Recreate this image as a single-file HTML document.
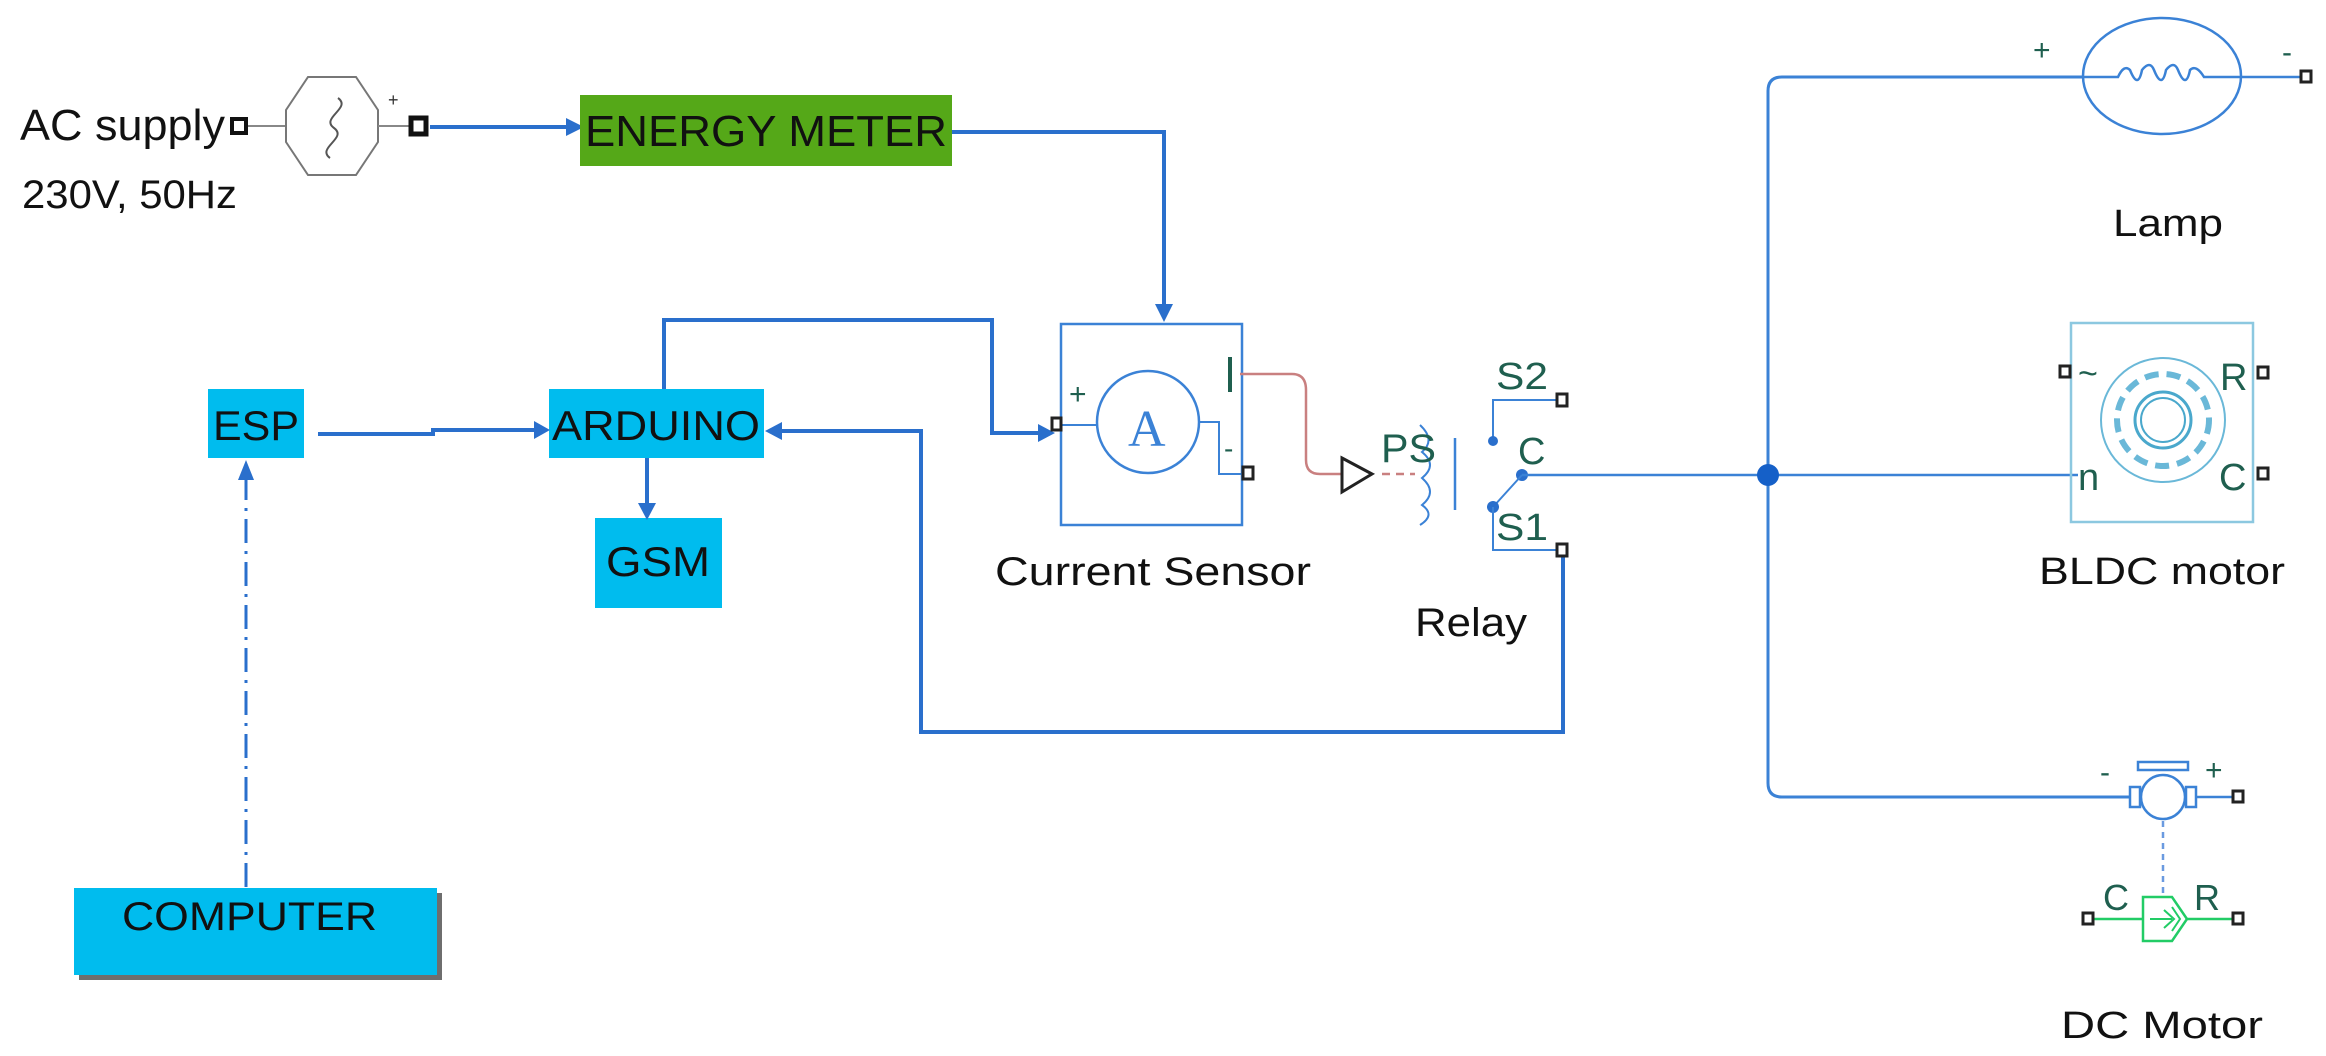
<!DOCTYPE html>
<html><head><meta charset="utf-8"><style>
html,body{margin:0;padding:0;background:#fff;}
svg{display:block;}
text{font-family:"Liberation Sans",sans-serif;}
</style></head><body>
<svg width="2326" height="1056" viewBox="0 0 2326 1056" xmlns="http://www.w3.org/2000/svg">
<defs>
<marker id="ar" viewBox="0 0 10 10" refX="9" refY="5" markerWidth="6" markerHeight="6" orient="auto" markerUnits="userSpaceOnUse" style="overflow:visible">
</marker>
</defs>
<rect width="2326" height="1056" fill="#fff"/>

<!-- AC supply -->
<text x="20" y="140" font-size="44" fill="#111" textLength="205" lengthAdjust="spacingAndGlyphs">AC supply</text>
<text x="22" y="208" font-size="40" fill="#111" textLength="215" lengthAdjust="spacingAndGlyphs">230V, 50Hz</text>
<rect x="232" y="119" width="14" height="14" fill="#fff" stroke="#111" stroke-width="4"/>
<line x1="248" y1="126" x2="286" y2="126" stroke="#888" stroke-width="2"/>
<polygon points="308,77 356,77 378,110 378,142 356,175 308,175 286,142 286,110" fill="#fff" stroke="#777" stroke-width="2"/>
<path d="M338,98 C352,108 320,118 334,128 C348,138 316,148 330,158" fill="none" stroke="#555" stroke-width="2"/>
<text x="388" y="106" font-size="18" fill="#333">+</text>
<line x1="378" y1="126" x2="410" y2="126" stroke="#888" stroke-width="2"/>
<rect x="411" y="118" width="15" height="16" fill="#fff" stroke="#111" stroke-width="5"/>
<line x1="430" y1="127" x2="568" y2="127" stroke="#2a6fcc" stroke-width="4"/>
<polygon points="584,127 566,118 566,136" fill="#2a6fcc"/>

<!-- ENERGY METER -->
<rect x="580" y="95" width="372" height="71" fill="#55a818"/>
<text x="585" y="146" font-size="44" fill="#111" textLength="362" lengthAdjust="spacingAndGlyphs">ENERGY METER</text>
<polyline points="952,132 1164,132 1164,308" fill="none" stroke="#2a6fcc" stroke-width="4"/>
<polygon points="1164,322 1155,304 1173,304" fill="#2a6fcc"/>

<!-- ESP / ARDUINO / GSM -->
<rect x="208" y="389" width="96" height="69" fill="#00bcee"/>
<text x="213" y="440" font-size="42" fill="#111" textLength="86" lengthAdjust="spacingAndGlyphs">ESP</text>
<rect x="549" y="389" width="215" height="69" fill="#00bcee"/>
<text x="552" y="440" font-size="42" fill="#111" textLength="208" lengthAdjust="spacingAndGlyphs">ARDUINO</text>
<rect x="595" y="518" width="127" height="90" fill="#00bcee"/>
<text x="606" y="576" font-size="42" fill="#111" textLength="104" lengthAdjust="spacingAndGlyphs">GSM</text>
<rect x="79" y="893" width="363" height="87" fill="#555" opacity="0.85"/>
<rect x="74" y="888" width="363" height="87" fill="#00bcee"/>
<text x="122" y="930" font-size="40" fill="#111" textLength="255" lengthAdjust="spacingAndGlyphs">COMPUTER</text>

<!-- ESP->ARDUINO -->
<polyline points="318,434 433,434 433,430 536,430" fill="none" stroke="#2a6fcc" stroke-width="4"/>
<polygon points="550,430 534,421 534,439" fill="#2a6fcc"/>
<!-- ARDUINO->GSM -->
<line x1="647" y1="458" x2="647" y2="506" stroke="#2a6fcc" stroke-width="4"/>
<polygon points="647,520 638,503 656,503" fill="#2a6fcc"/>
<!-- computer->ESP dash-dot -->
<line x1="246" y1="887" x2="246" y2="478" stroke="#2a6fcc" stroke-width="3" stroke-dasharray="24,8,3,8"/>
<polygon points="246,460 238,480 254,480" fill="#2a6fcc"/>
<!-- ARDUINO -> current sensor -->
<polyline points="664,389 664,320 992,320 992,433 1040,433" fill="none" stroke="#2a6fcc" stroke-width="4"/>
<polygon points="1055,433 1038,424 1038,442" fill="#2a6fcc"/>
<!-- relay S1 -> ARDUINO -->
<polyline points="1563,554 1563,732 921,732 921,431 780,431" fill="none" stroke="#2a6fcc" stroke-width="4"/>
<polygon points="765,431 782,422 782,440" fill="#2a6fcc"/>

<!-- Current sensor -->
<rect x="1061" y="324" width="181" height="201" fill="none" stroke="#3b82d6" stroke-width="2.5"/>
<circle cx="1148" cy="422" r="51" fill="none" stroke="#3b82d6" stroke-width="2.5"/>
<text x="1128" y="446" font-size="52" font-family="Liberation Serif" fill="#3b82d6" style="font-family:'Liberation Serif',serif">A</text>
<line x1="1060" y1="425" x2="1097" y2="425" stroke="#3b82d6" stroke-width="2"/>
<rect x="1052" y="418" width="9" height="12" fill="#fff" stroke="#222" stroke-width="3"/>
<text x="1069" y="404" font-size="30" fill="#1f5f4f">+</text>
<polyline points="1199,422 1219,422 1219,474 1245,474" fill="none" stroke="#3b82d6" stroke-width="2"/>
<text x="1224" y="458" font-size="28" fill="#1f5f4f">-</text>
<rect x="1243" y="467" width="10" height="12" fill="#fff" stroke="#222" stroke-width="3"/>
<line x1="1230" y1="357" x2="1230" y2="392" stroke="#1f5f4f" stroke-width="4"/>
<path d="M1240,374 L1292,374 Q1306,374 1306,390 L1306,460 Q1306,474 1320,474 L1341,474" fill="none" stroke="#c98080" stroke-width="2.5"/>
<polygon points="1342,458 1372,474 1342,492" fill="#fff" stroke="#222" stroke-width="3"/>
<line x1="1382" y1="474" x2="1415" y2="474" stroke="#c98080" stroke-width="2.5" stroke-dasharray="8,6"/>
<text x="995" y="585" font-size="40" fill="#111" textLength="316" lengthAdjust="spacingAndGlyphs">Current  Sensor</text>

<!-- Relay -->
<path d="M1420,425 Q1436,440 1422,452 Q1438,465 1422,478 Q1438,492 1422,505 Q1436,515 1420,525" fill="none" stroke="#3b82d6" stroke-width="2"/>
<text x="1381" y="462" font-size="40" fill="#1f5f4f" textLength="55" lengthAdjust="spacingAndGlyphs">PS</text>
<line x1="1455" y1="438" x2="1455" y2="510" stroke="#3b82d6" stroke-width="2.5"/>
<polyline points="1493,441 1493,400 1558,400" fill="none" stroke="#3b82d6" stroke-width="2"/>
<circle cx="1493" cy="441" r="5" fill="#2a6fcc"/>
<rect x="1557" y="394" width="10" height="12" fill="#fff" stroke="#222" stroke-width="3"/>
<text x="1496" y="389" font-size="38" fill="#1f5f4f" textLength="52" lengthAdjust="spacingAndGlyphs">S2</text>
<text x="1518" y="464" font-size="38" fill="#1f5f4f">C</text>
<circle cx="1522" cy="475" r="6" fill="#2a6fcc"/>
<line x1="1522" y1="475" x2="1493" y2="507" stroke="#3b82d6" stroke-width="2"/>
<circle cx="1493" cy="507" r="6" fill="#2a6fcc"/>
<polyline points="1493,507 1493,550 1558,550" fill="none" stroke="#3b82d6" stroke-width="2"/>
<rect x="1557" y="544" width="10" height="12" fill="#fff" stroke="#222" stroke-width="3"/>
<text x="1496" y="540" font-size="38" fill="#1f5f4f" textLength="52" lengthAdjust="spacingAndGlyphs">S1</text>
<text x="1415" y="636" font-size="40" fill="#111" textLength="112" lengthAdjust="spacingAndGlyphs">Relay</text>

<!-- bus -->
<line x1="1522" y1="475" x2="2078" y2="475" stroke="#3b82d6" stroke-width="2.5"/>
<path d="M2083,77 L1782,77 Q1768,77 1768,91 L1768,783 Q1768,797 1782,797 L2141,797" fill="none" stroke="#3b82d6" stroke-width="3"/>
<circle cx="1768" cy="475" r="11" fill="#1560c8"/>

<!-- Lamp -->
<ellipse cx="2162" cy="76" rx="79" ry="58" fill="none" stroke="#3b82d6" stroke-width="2.5"/>
<path d="M2083,77 L2118,77 Q2124,64 2130,70 Q2138,90 2142,70 Q2150,60 2154,70 Q2162,90 2166,70 Q2174,60 2178,70 Q2186,90 2190,70 Q2196,64 2204,77 L2300,77" fill="none" stroke="#3b82d6" stroke-width="2.5"/>
<text x="2033" y="60" font-size="30" fill="#1f5f4f">+</text>
<text x="2282" y="62" font-size="30" fill="#1f5f4f">-</text>
<rect x="2301" y="71" width="10" height="11" fill="#fff" stroke="#222" stroke-width="3"/>
<text x="2113" y="236" font-size="38" fill="#111" textLength="110" lengthAdjust="spacingAndGlyphs">Lamp</text>

<!-- BLDC -->
<rect x="2071" y="323" width="182" height="199" fill="none" stroke="#8cc8e0" stroke-width="2.5"/>
<circle cx="2163" cy="420" r="62" fill="none" stroke="#6ab8d8" stroke-width="2"/>
<circle cx="2163" cy="420" r="46" fill="none" stroke="#6ab8d8" stroke-width="6" stroke-dasharray="14,8"/>
<circle cx="2163" cy="420" r="28" fill="none" stroke="#4aa8cc" stroke-width="3"/>
<circle cx="2163" cy="420" r="22" fill="none" stroke="#4aa8cc" stroke-width="2"/>
<rect x="2060" y="366" width="10" height="11" fill="#fff" stroke="#222" stroke-width="3"/>
<text x="2078" y="385" font-size="34" fill="#1f5f4f">~</text>
<text x="2220" y="390" font-size="38" fill="#1f5f4f">R</text>
<rect x="2258" y="367" width="10" height="11" fill="#fff" stroke="#222" stroke-width="3"/>
<text x="2078" y="490" font-size="38" fill="#1f5f4f">n</text>
<text x="2219" y="490" font-size="38" fill="#1f5f4f">C</text>
<rect x="2258" y="468" width="10" height="11" fill="#fff" stroke="#222" stroke-width="3"/>
<text x="2039" y="584" font-size="38" fill="#111" textLength="246" lengthAdjust="spacingAndGlyphs">BLDC motor</text>

<!-- DC motor -->
<rect x="2138" y="762" width="50" height="8" fill="none" stroke="#3b82d6" stroke-width="2.5"/>
<circle cx="2163" cy="797" r="22" fill="#fff" stroke="#3b82d6" stroke-width="2.5"/>
<rect x="2130" y="787" width="10" height="20" fill="#fff" stroke="#3b82d6" stroke-width="2.5"/>
<rect x="2186" y="787" width="10" height="20" fill="#fff" stroke="#3b82d6" stroke-width="2.5"/>
<line x1="2196" y1="797" x2="2233" y2="797" stroke="#3b82d6" stroke-width="2.5"/>
<rect x="2233" y="791" width="10" height="11" fill="#fff" stroke="#222" stroke-width="3"/>
<text x="2100" y="782" font-size="30" fill="#1f5f4f">-</text>
<text x="2205" y="780" font-size="30" fill="#1f5f4f">+</text>
<line x1="2163" y1="821" x2="2163" y2="895" stroke="#6a9ae0" stroke-width="2.5" stroke-dasharray="6,5"/>
<line x1="2092" y1="919" x2="2143" y2="919" stroke="#22cc66" stroke-width="2.5"/>
<line x1="2187" y1="919" x2="2233" y2="919" stroke="#22cc66" stroke-width="2.5"/>
<path d="M2143,897 L2172,897 L2187,919 L2172,941 L2143,941 Z" fill="none" stroke="#22cc66" stroke-width="2.5"/>
<path d="M2150,919 L2172,919 M2164,910 L2174,919 L2164,928 M2172,907 L2180,919 L2172,931" fill="none" stroke="#22cc66" stroke-width="2"/>
<rect x="2083" y="913" width="10" height="11" fill="#fff" stroke="#222" stroke-width="3"/>
<rect x="2233" y="913" width="10" height="11" fill="#fff" stroke="#222" stroke-width="3"/>
<text x="2103" y="910" font-size="36" fill="#1f5f4f">C</text>
<text x="2194" y="910" font-size="36" fill="#1f5f4f">R</text>
<text x="2061" y="1038" font-size="38" fill="#111" textLength="202" lengthAdjust="spacingAndGlyphs">DC  Motor</text>
</svg>
</body></html>
